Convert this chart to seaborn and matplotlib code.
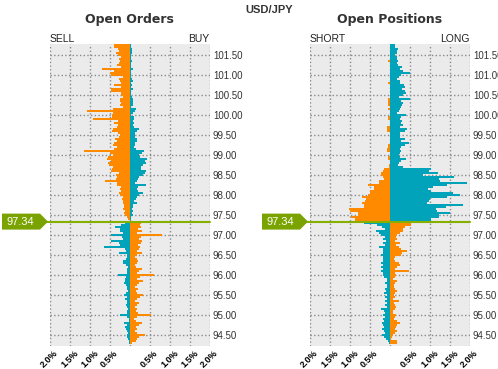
import numpy as np
import pandas as pd
import seaborn as sns
import matplotlib.pyplot as plt
import matplotlib.transforms as mtrans
from matplotlib.patches import Polygon

# price buckets (0.05 bands), listed top -> bottom
price_above = np.round(np.linspace(101.75, 97.35, 89), 2)
price_below = np.round(np.linspace(97.30, 94.30, 61), 2)
current_price = 97.34

# ---- Open Orders (% of orders) ----
orders_sell_above = [
    0.39, 0.39, 0.29, 0.275, 0.34, 0.29, 0.21, 0.275, 0.24, 0.26,
    0.31, 0.21, 0.69, 0.39, 0.49, 0.475, 0.16, 0.26, 0.24, 0.225,
    0.39, 0.21, 0.46, 0.46, 0.21, 0.21, 0.16, 0.24, 0.24, 0.225,
    0.24, 0.175, 0.41, 1.06, 0.41, 0.44, 0.44, 0.91, 0.29, 0.39,
    0.29, 0.31, 0.425, 0.44, 0.29, 0.24, 0.275, 0.36, 0.325, 0.39,
    0.41, 0.31, 0.39, 1.14, 0.49, 0.425, 0.54, 0.56, 0.46, 0.54,
    0.525, 0.425, 0.44, 0.46, 0.26, 0.34, 0.325, 0.34, 0.61, 0.31,
    0.31, 0.225, 0.24, 0.225, 0.275, 0.24, 0.175, 0.19, 0.175, 0.16,
    0.14, 0.14, 0.16, 0.125, 0.14, 0.11, 0.075, 0.04, 0.0]
orders_buy_above = [
    0.03, 0.03, 0.06, 0.06, 0.05, 0.03, 0.025, 0.025, 0.06, 0.025,
    0.025, 0.025, 0.08, 0.03, 0.03, 0.025, 0.03, 0.06, 0.08, 0.03,
    0.06, 0.03, 0.08, 0.03, 0.025, 0.025, 0.06, 0.075, 0.09, 0.075,
    0.09, 0.03, 0.16, 0.14, 0.075, 0.03, 0.11, 0.11, 0.09, 0.11,
    0.09, 0.11, 0.225, 0.19, 0.14, 0.125, 0.125, 0.175, 0.175, 0.14,
    0.14, 0.11, 0.16, 0.36, 0.31, 0.24, 0.26, 0.44, 0.39, 0.41,
    0.34, 0.275, 0.29, 0.41, 0.375, 0.325, 0.24, 0.21, 0.19, 0.14,
    0.41, 0.21, 0.175, 0.21, 0.325, 0.24, 0.19, 0.16, 0.11, 0.175,
    0.09, 0.075, 0.06, 0.09, 0.06, 0.075, 0.04, 0.025, 0.0]
orders_buy_below = [
    0.11, 0.225, 0.36, 0.24, 0.24, 0.16, 0.46, 0.19, 0.175, 0.46,
    0.275, 0.24, 0.64, 0.125, 0.09, 0.26, 0.075, 0.06, 0.09, 0.16,
    0.16, 0.09, 0.04, 0.075, 0.06, 0.06, 0.29, 0.09, 0.11, 0.125,
    0.14, 0.09, 0.075, 0.06, 0.04, 0.09, 0.14, 0.075, 0.11, 0.075,
    0.06, 0.09, 0.075, 0.04, 0.06, 0.06, 0.24, 0.06, 0.025, 0.025,
    0.14, 0.075, 0.11, 0.09, 0.06, 0.04, 0.075, 0.06, 0.04, 0.025, 0.01]
orders_sell_below = [
    0.29, 0.26, 0.29, 0.21, 0.31, 0.175, 0.81, 0.29, 0.24, 0.31,
    0.29, 0.21, 0.26, 0.24, 0.19, 0.31, 0.175, 0.14, 0.19, 0.21,
    0.175, 0.14, 0.16, 0.31, 0.225, 0.175, 0.61, 0.26, 0.175, 0.34,
    0.24, 0.19, 0.14, 0.21, 0.16, 0.175, 0.34, 0.26, 0.19, 0.14,
    0.24, 0.175, 0.14, 0.175, 0.16, 0.21, 0.54, 0.175, 0.11, 0.16,
    0.31, 0.24, 0.16, 0.19, 0.14, 0.175, 0.375, 0.24, 0.175, 0.16, 0.06]

# ---- Open Positions (% of positions) ----
pos_short_above = [
    0, 0, 0, 0, 0, 0, 0, 0, 0.03, 0,
    0, 0, 0, 0, 0, 0, 0, 0, 0, 0.03,
    0, 0, 0, 0, 0, 0, 0, 0.04, 0.04, 0.04,
    0.03, 0, 0.04, 0, 0, 0, 0.05, 0.05, 0, 0,
    0, 0.07, 0.07, 0.07, 0, 0, 0, 0, 0, 0,
    0.03, 0.04, 0.07, 0.07, 0, 0, 0.04, 0.04, 0, 0,
    0.02, 0.02, 0.13, 0.17, 0.21, 0.21, 0.17, 0.15, 0.27, 0.27,
    0.53, 0.38, 0.38, 0.5, 0.48, 0.55, 0.68, 0.6, 0.62, 0.7,
    0.63, 0.63, 1.02, 1.0, 0.78, 0.8, 0.97, 0.87, 0.87]
pos_long_above = [
    0.14, 0.14, 0.21, 0.175, 0.175, 0.125, 0.19, 0.19, 0.21, 0.175,
    0.21, 0.31, 0.26, 0.34, 0.51, 0.29, 0.225, 0.19, 0.26, 0.26,
    0.36, 0.39, 0.31, 0.39, 0.41, 0.34, 0.24, 0.51, 0.275, 0.325,
    0.31, 0.29, 0.26, 0.24, 0.19, 0.41, 0.275, 0.26, 0.31, 0.29,
    0.325, 0.26, 0.425, 0.375, 0.26, 0.26, 0.26, 0.375, 0.29, 0.475,
    0.39, 0.29, 0.26, 0.29, 0.26, 0.225, 0.26, 0.41, 0.275, 0.24,
    0.21, 0.325, 1.025, 0.975, 1.21, 0.825, 1.61, 1.225, 1.26, 1.94,
    1.425, 1.09, 0.96, 1.025, 1.575, 1.76, 1.425, 1.01, 0.99, 0.94,
    1.84, 1.41, 1.16, 1.175, 1.51, 1.24, 1.225, 1.025, 1.025]
pos_long_below = [
    0.64, 0.31, 0.19, 0.125, 0.34, 0.26, 0.21, 0.125, 0.175, 0.09,
    0.16, 0.11, 0.275, 0.175, 0.16, 0.16, 0.21, 0.16, 0.175, 0.16,
    0.21, 0.175, 0.21, 0.16, 0.21, 0.16, 0.175, 0.14, 0.075, 0.075,
    0.11, 0.075, 0.075, 0.11, 0.09, 0.14, 0.075, 0.11, 0.075, 0.125,
    0.075, 0.11, 0.075, 0.21, 0.14, 0.11, 0.16, 0.125, 0.16, 0.14,
    0.19, 0.16, 0.14, 0.19, 0.14, 0.125, 0.19, 0.14, 0.09, 0.04, 0.025]
pos_short_below = [
    0.525, 0.525, 0.39, 0.325, 0.34, 0.26, 0.19, 0.16, 0.175, 0.125,
    0.26, 0.16, 0.225, 0.275, 0.425, 0.31, 0.275, 0.14, 0.11, 0.125,
    0.24, 0.26, 0.175, 0.14, 0.475, 0.125, 0.16, 0.14, 0.075, 0.19,
    0.14, 0.11, 0.11, 0.14, 0.19, 0.125, 0.11, 0.14, 0.09, 0.24,
    0.11, 0.14, 0.16, 0.125, 0.075, 0.09, 0.16, 0.125, 0.11, 0.19,
    0.26, 0.175, 0.16, 0.125, 0.175, 0.14, 0.09, 0.06, 0.04, 0.175, 0.175]

x_ticks = [-2.0, -1.5, -1.0, -0.5, 0.0, 0.5, 1.0, 1.5, 2.0]
y_ticks = [94.5, 95.0, 95.5, 96.0, 96.5, 97.0, 97.5, 98.0, 98.5,
           99.0, 99.5, 100.0, 100.5, 101.0, 101.5]

ORANGE = "#ff8a00"
TEAL = "#00a3b9"
GREEN = "#86b000"
TAG_GREEN = "#7aa300"


def book_frame(left_above, right_above, left_below, right_below):
    # above the price: left orange / right teal, below it the colours swap
    return pd.concat([
        pd.DataFrame({"price": price_above, "pct": -np.asarray(left_above), "col": "o"}),
        pd.DataFrame({"price": price_above, "pct": np.asarray(right_above), "col": "t"}),
        pd.DataFrame({"price": price_below, "pct": -np.asarray(left_below), "col": "t"}),
        pd.DataFrame({"price": price_below, "pct": np.asarray(right_below), "col": "o"}),
    ], ignore_index=True)


orders_df = book_frame(orders_sell_above, orders_buy_above, orders_buy_below, orders_sell_below)
positions_df = book_frame(pos_short_above, pos_long_above, pos_long_below, pos_short_below)

sns.set_theme(style="darkgrid", rc={
    "axes.facecolor": "#ebebeb",
    "grid.color": "#8a8a8a",
    "grid.linestyle": ":",
    "grid.linewidth": 1.0,
    "axes.axisbelow": True,
})
plt.rcParams["font.family"] = ["Liberation Sans", "DejaVu Sans"]

fig = plt.figure(figsize=(4.98, 3.69), dpi=100)
fig.patch.set_facecolor("white")
ax1 = fig.add_axes([49.5 / 498, 23 / 369, 160 / 498, 302 / 369])
ax2 = fig.add_axes([309.5 / 498, 23 / 369, 160 / 498, 302 / 369])


def price_tag(ax):
    # green pentagon label pointing at the axis, sized in pixels
    anchor = mtrans.ScaledTranslation(
        0, current_price,
        mtrans.blended_transform_factory(ax.transAxes, ax.transData))
    px = mtrans.Affine2D().scale(1 / 100) + fig.dpi_scale_trans + anchor
    shape = Polygon([(-47.5, -8), (-9.5, -8), (-1.5, 0), (-9.5, 8), (-47.5, 8)],
                    closed=True, transform=px, fc=TAG_GREEN, ec="none",
                    clip_on=False, zorder=6)
    ax.add_patch(shape)
    ax.text(-29, 0, f"{current_price:.2f}", transform=px, ha="center",
            va="center", color="white", fontsize=8, clip_on=False, zorder=7)


def draw_panel(ax, df, title, left_lab, right_lab):
    sns.barplot(data=df, x="pct", y="price", hue="col", orient="y",
                palette={"o": ORANGE, "t": TEAL}, native_scale=True,
                dodge=False, width=1.0, saturation=1, errorbar=None,
                legend=False, linewidth=0, ax=ax)
    ax.set_xlim(-2, 2)
    ax.set_ylim(94.23, 101.78)
    ax.set_xticks(x_ticks)
    ax.set_xticklabels(["" if v == 0 else f"{abs(v):.1f}%" for v in x_ticks],
                       rotation=45, ha="center", va="top",
                       fontsize=6.5, fontweight="bold", color="black")
    ax.set_yticks(y_ticks)
    ax.set_yticklabels([f"{v:.2f}" for v in y_ticks], fontsize=7, color="#333333")
    ax.yaxis.tick_right()
    ax.tick_params(axis="both", length=0)
    ax.tick_params(axis="y", pad=2.5)
    ax.tick_params(axis="x", pad=1.5)
    ax.set_xlabel("")
    ax.set_ylabel("")
    for s in ax.spines.values():
        s.set_visible(False)

    ax.axhline(current_price, xmin=-0.06, xmax=1.0, color=GREEN, lw=1.5,
               clip_on=False, zorder=5)
    price_tag(ax)

    ax.text(0.5, 1.0 + 24 / 302, title, transform=ax.transAxes, ha="center",
            va="center", fontsize=9, fontweight="bold", color="#333333",
            family="DejaVu Sans")
    ax.text(0.0, 1.0 + 5 / 302, left_lab, transform=ax.transAxes, ha="left",
            va="center", fontsize=7.5, color="#222222")
    ax.text(1.0, 1.0 + 5 / 302, right_lab, transform=ax.transAxes, ha="right",
            va="center", fontsize=7.5, color="#222222")


draw_panel(ax1, orders_df, "Open Orders", "SELL", "BUY")
draw_panel(ax2, positions_df, "Open Positions", "SHORT", "LONG")

fig.text(269 / 498, 1 - 10 / 369, "USD/JPY", ha="center", va="center",
         fontsize=8, fontweight="bold", color="#333333")

fig.savefig("out.png", dpi=100)
